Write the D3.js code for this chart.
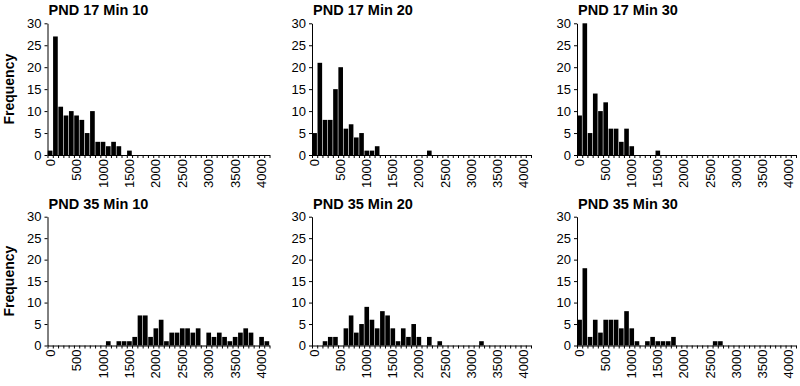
<!DOCTYPE html>
<html lang="en">
<head>
    <meta charset="UTF-8">
    <title>histograms</title>
    <script src="https://d3js.org/d3.v7.min.js"></script>
    <style>
        body { margin: 0; background: #fff; }
        text { font-family: "Liberation Sans", Arial, Helvetica, sans-serif; }
    </style>
</head>
<body>
    <svg></svg>
    <script>
        const bins = [0, 100, 200, 300, 400, 500, 600, 700, 800, 900,
            1000, 1100, 1200, 1300, 1400, 1500, 1600, 1700, 1800, 1900,
            2000, 2100, 2200, 2300, 2400, 2500, 2600, 2700, 2800, 2900,
            3000, 3100, 3200, 3300, 3400, 3500, 3600, 3700, 3800, 3900,
            4000, 4100];
        const xTickLabels = [0, 500, 1000, 1500, 2000, 2500, 3000, 3500, 4000];
        const yTickLabels = [0, 5, 10, 15, 20, 25, 30];
        const titles = ["PND 17 Min 10", "PND 17 Min 20", "PND 17 Min 30",
                        "PND 35 Min 10", "PND 35 Min 20", "PND 35 Min 30"];

        const pnd17min10 = [1, 27, 11, 9, 10, 9, 8, 5, 10, 3, 3, 2, 3, 2, 0, 1, 0, 0, 0, 0,
            0, 0, 0, 0, 0, 0, 0, 0, 0, 0, 0, 0, 0, 0, 0, 0, 0, 0, 0, 0, 0, 0];
        const pnd17min20 = [5, 21, 8, 8, 15, 20, 6, 7, 4, 5, 1, 1, 2, 0, 0, 0, 0, 0, 0, 0,
            0, 0, 1, 0, 0, 0, 0, 0, 0, 0, 0, 0, 0, 0, 0, 0, 0, 0, 0, 0, 0, 0];
        const pnd17min30 = [9, 30, 5, 14, 10, 12, 6, 6, 3, 6, 2, 0, 0, 0, 0, 1, 0, 0, 0, 0,
            0, 0, 0, 0, 0, 0, 0, 0, 0, 0, 0, 0, 0, 0, 0, 0, 0, 0, 0, 0, 0, 0];
        const pnd35min10 = [0, 0, 0, 0, 0, 0, 0, 0, 0, 0, 0, 1, 0, 1, 1, 1, 2, 7, 7, 2,
            4, 6, 1, 3, 3, 4, 4, 3, 4, 0, 3, 2, 3, 2, 1, 2, 3, 4, 3, 0, 2, 1];
        const pnd35min20 = [0, 0, 1, 2, 2, 0, 4, 7, 3, 5, 9, 6, 4, 8, 7, 4, 1, 4, 2, 5,
            2, 0, 2, 0, 1, 0, 0, 0, 0, 0, 0, 0, 1, 0, 0, 0, 0, 0, 0, 0, 0, 0];
        const pnd35min30 = [6, 18, 2, 6, 3, 6, 6, 6, 4, 8, 4, 1, 0, 1, 2, 1, 1, 1, 2, 0,
            0, 0, 0, 0, 0, 0, 1, 1, 0, 0, 0, 0, 0, 0, 0, 0, 0, 0, 0, 0, 0, 0];

        const series = [pnd17min10, pnd17min20, pnd17min30, pnd35min10, pnd35min20, pnd35min30];

        const width = 800, height = 386;
        const binWidth = 100;
        const colLeft = [47.5, 312, 577];
        const colWidth = [222, 219, 219];
        const rowTop = [23.3, 216.7];
        const rowBottom = [155, 345.5];

        const svg = d3.select("svg")
            .attr("width", width)
            .attr("height", height);

        series.forEach((values, i) => {
            const col = i % 3, row = Math.floor(i / 3);
            const x = d3.scaleLinear()
                .domain([0, bins[bins.length - 1] + binWidth])
                .range([colLeft[col], colLeft[col] + colWidth[col]]);
            const y = d3.scaleLinear()
                .domain([0, 30])
                .range([rowBottom[row], rowTop[row]]);

            const g = svg.append("g");

            // bars
            g.selectAll("rect")
                .data(bins.map((b, k) => ({ bin: b, value: values[k] })).filter(d => d.value > 0))
                .enter()
                .append("rect")
                .attr("x", d => x(d.bin) + 0.3)
                .attr("width", d => x(d.bin + binWidth) - x(d.bin) - 0.6)
                .attr("y", d => y(d.value))
                .attr("height", d => y(0) - y(d.value))
                .attr("fill", "#000");

            // x axis: ticks at every bin edge, labels at bin centres
            const xEdges = bins.concat([bins[bins.length - 1] + binWidth]);
            const xAxis = g.append("g")
                .attr("transform", `translate(0,${y(0)})`)
                .call(d3.axisBottom(x).tickValues(xEdges).tickSize(3).tickFormat("").tickSizeOuter(0));
            xAxis.selectAll("path, line").attr("stroke", "#000").attr("stroke-width", 1);

            g.selectAll(".xlabel")
                .data(xTickLabels)
                .enter()
                .append("text")
                .attr("class", "xlabel")
                .attr("transform", d => `translate(${x(d + binWidth / 2)},${y(0) + 4})rotate(-90)`)
                .attr("dy", "0.35em")
                .attr("text-anchor", "end")
                .attr("font-size", 13)
                .text(d => d);

            // y axis
            const yAxis = g.append("g")
                .attr("transform", `translate(${colLeft[col]},0)`)
                .call(d3.axisLeft(y).tickValues(yTickLabels).tickSize(3).tickPadding(3).tickSizeOuter(0));
            yAxis.selectAll("path, line").attr("stroke", "#000").attr("stroke-width", 1);
            yAxis.selectAll("text")
                .attr("font-size", 13)
                .attr("font-family", "Liberation Sans, Arial, sans-serif")
                .attr("fill", "#000");

            // title
            g.append("text")
                .attr("x", colLeft[col] + 1)
                .attr("y", rowTop[row] - 8)
                .attr("font-size", 14.5)
                .attr("font-weight", "bold")
                .text(titles[i]);

            if (col === 0) {
                g.append("text")
                    .attr("transform", `translate(14,${(rowTop[row] + rowBottom[row]) / 2})rotate(-90)`)
                    .attr("text-anchor", "middle")
                    .attr("font-size", 14)
                    .attr("font-weight", "bold")
                    .text("Frequency");
            }
        });
    </script>
</body>
</html>
